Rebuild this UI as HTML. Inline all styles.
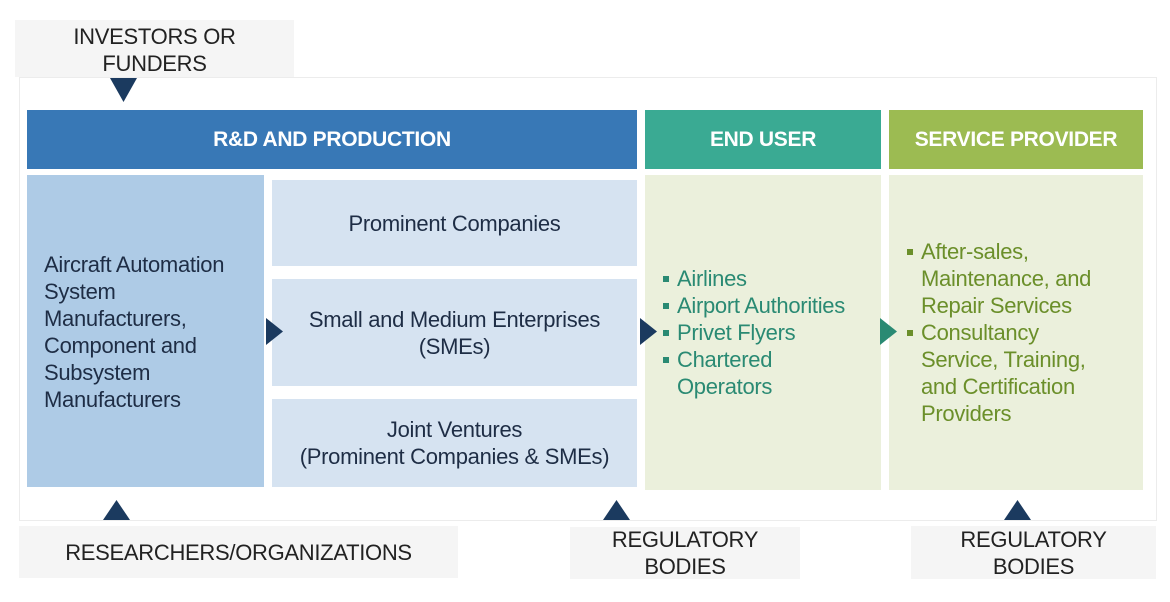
<!DOCTYPE html>
<html><head><meta charset="utf-8"><style>
body{margin:0;width:1170px;height:602px;background:#fff;position:relative;overflow:hidden;font-family:"Liberation Sans",sans-serif;}
div{position:absolute;box-sizing:border-box;}
.c{display:flex;align-items:center;justify-content:center;text-align:center;}
.t{font-size:22px;line-height:27px;letter-spacing:-0.3px;white-space:nowrap;}
.h{color:#fff;font-weight:bold;font-size:21px;letter-spacing:-0.3px;}
.gray{background:#f5f5f5;color:#222;}
ul{margin:0;padding:0;list-style:none;}
li{position:relative;padding-left:16px;}
li:before{content:"";position:absolute;left:2px;top:11px;width:6px;height:6px;background:currentColor;}
</style></head><body>
<div style="left:19px;top:77px;width:1138px;height:444px;border:1px solid #ececec;"></div>
<div class="gray c t" style="left:15px;top:20px;width:279px;height:57px;padding-top:2px;">INVESTORS OR<br>FUNDERS</div>
<svg style="position:absolute;left:0;top:0" width="1170" height="602">
<polygon points="110,78 137,78 123.5,102" fill="#1b3a5f"/>
<polygon points="103,520 130,520 116.5,500" fill="#1b3a5f"/>
<polygon points="603,520 630,520 616.5,500" fill="#1b3a5f"/>
<polygon points="1004,520 1031,520 1017.5,500" fill="#1b3a5f"/>
</svg>
<div class="c h" style="left:27px;top:110px;width:610px;height:59px;background:#3878b6;">R&amp;D AND PRODUCTION</div>
<div class="c h" style="left:645px;top:110px;width:236px;height:59px;background:#3aaa93;">END USER</div>
<div class="c h" style="left:889px;top:110px;width:254px;height:59px;background:#9cbb52;">SERVICE PROVIDER</div>
<div class="t" style="left:27px;top:175px;width:237px;height:312px;background:#aecbe6;color:#1e2d45;padding:76px 0 0 17px;">Aircraft Automation<br>System<br>Manufacturers,<br>Component and<br>Subsystem<br>Manufacturers</div>
<div class="c t" style="left:272px;top:180px;width:365px;height:86px;background:#d6e3f1;color:#1e2d45;">Prominent Companies</div>
<div class="c t" style="left:272px;top:279px;width:365px;height:107px;background:#d6e3f1;color:#1e2d45;">Small and Medium Enterprises<br>(SMEs)</div>
<div class="c t" style="left:272px;top:399px;width:365px;height:88px;background:#d6e3f1;color:#1e2d45;">Joint Ventures<br>(Prominent Companies &amp; SMEs)</div>
<div class="t" style="left:645px;top:175px;width:236px;height:315px;background:#ebf0dc;color:#2a8a73;padding:90px 0 0 16px;"><ul><li>Airlines</li><li>Airport Authorities</li><li>Privet Flyers</li><li>Chartered<br>Operators</li></ul></div>
<div class="t" style="left:889px;top:175px;width:254px;height:315px;background:#ebf0dc;color:#6b8f2a;padding:63px 0 0 16px;"><ul><li>After-sales,<br>Maintenance, and<br>Repair Services</li><li>Consultancy<br>Service, Training,<br>and Certification<br>Providers</li></ul></div>
<svg style="position:absolute;left:0;top:0" width="1170" height="602">
<polygon points="266,318 266,345 283,331.5" fill="#1b3a5f"/>
<polygon points="640,318 640,345 657,331.5" fill="#1b3a5f"/>
<polygon points="880,318 880,345 897,331.5" fill="#2a8a73"/>
</svg>
<div class="gray c t" style="left:19px;top:526px;width:439px;height:52px;">RESEARCHERS/ORGANIZATIONS</div>
<div class="gray c t" style="left:570px;top:527px;width:230px;height:52px;">REGULATORY<br>BODIES</div>
<div class="gray c t" style="left:911px;top:526px;width:245px;height:53px;">REGULATORY<br>BODIES</div>
</body></html>
